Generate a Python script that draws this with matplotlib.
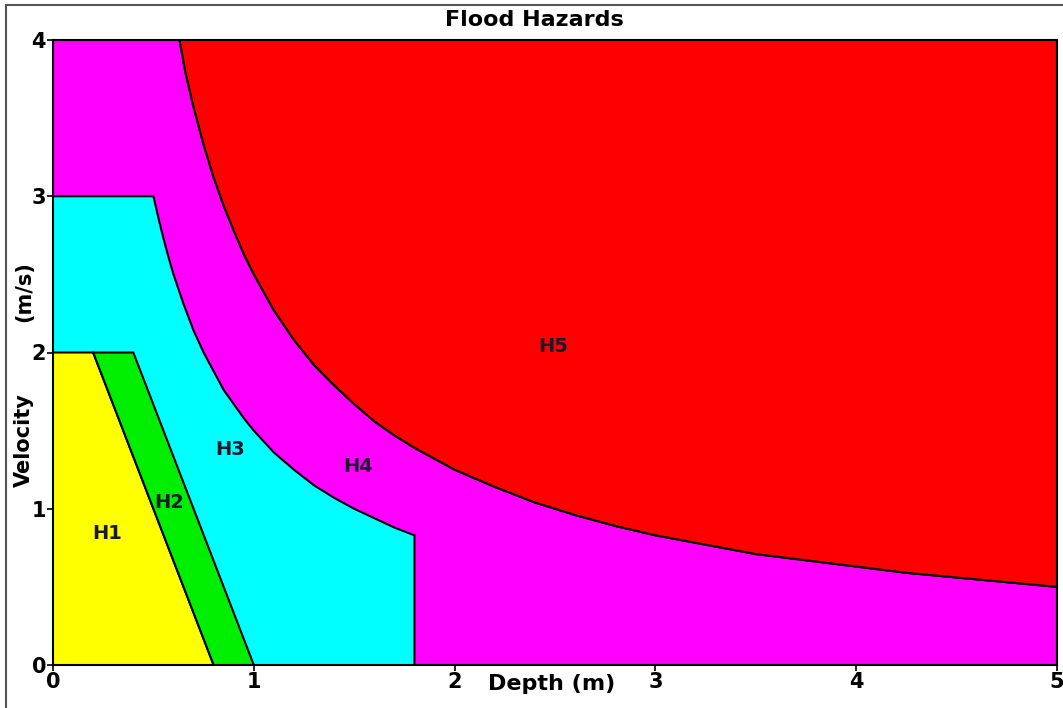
import matplotlib
matplotlib.use("Agg")
import matplotlib.pyplot as plt
import matplotlib.patches as mpatches

plt.rcParams['font.family'] = ['DejaVu Sans']
plt.rcParams['font.weight'] = 'bold'

# -------------------------------------------------------------
# Hazard zone boundaries (depth in m, velocity in m/s)
# -------------------------------------------------------------
h1_depth = [0.0, 0.0, 0.2, 0.8]
h1_vel = [0.0, 2.0, 2.0, 0.0]

h2_depth = [0.2, 0.4, 1.0, 0.8]
h2_vel = [2.0, 2.0, 0.0, 0.0]

# H3 / H4 boundary curve
h3_curve_depth = [0.5, 0.525, 0.55, 0.575, 0.6, 0.65, 0.7, 0.75, 0.8, 0.85,
                  0.9, 0.95, 1.0, 1.1, 1.2, 1.3, 1.4, 1.5, 1.6, 1.7, 1.8]
h3_curve_vel = [3.0, 2.86, 2.73, 2.61, 2.5, 2.31, 2.14, 2.0, 1.88, 1.76,
                1.67, 1.58, 1.5, 1.36, 1.25, 1.15, 1.07, 1.0, 0.94, 0.88, 0.83]

# H4 / H5 boundary curve
h5_curve_depth = [0.63, 0.66, 0.7, 0.75, 0.8, 0.85, 0.9, 0.95, 1.0, 1.1,
                  1.2, 1.3, 1.4, 1.5, 1.6, 1.7, 1.8, 1.9, 2.0, 2.2, 2.4,
                  2.6, 2.8, 3.0, 3.25, 3.5, 3.75, 4.0, 4.25, 4.5, 4.75, 5.0]
h5_curve_vel = [4.0, 3.79, 3.57, 3.33, 3.12, 2.94, 2.78, 2.63, 2.5, 2.27,
                2.08, 1.92, 1.79, 1.67, 1.56, 1.47, 1.39, 1.32, 1.25, 1.14, 1.04,
                0.96, 0.89, 0.83, 0.77, 0.71, 0.67, 0.63, 0.59, 0.56, 0.53, 0.5]

zone_names = ["H1", "H2", "H3", "H4", "H5"]
zone_colors = ["#ffff00", "#00ee00", "#00ffff", "#ff00ff", "#ff0000"]
label_depth = [0.27, 0.58, 0.88, 1.52, 2.49]
label_vel = [0.84, 1.04, 1.38, 1.27, 2.04]

x_max, y_max = 5, 4


# -------------------------------------------------------------
# Build polygons
# -------------------------------------------------------------
h3_poly = ([(0.0, 0.0), (0.0, 3.0)]
           + list(zip(h3_curve_depth, h3_curve_vel))
           + [(h3_curve_depth[-1], 0.0)])

h4_poly = ([(0.0, 0.0), (0.0, y_max)]
           + list(zip(h5_curve_depth, h5_curve_vel))
           + [(x_max, 0.0)])

h5_poly = (list(zip(h5_curve_depth, h5_curve_vel))
           + [(x_max, y_max)])

fig = plt.figure(figsize=(10.63, 7.08), dpi=100)
ax = fig.add_axes([53 / 1063, 1 - 665 / 708, (1057 - 53) / 1063, (665 - 40) / 708])

polys = [
    list(zip(h1_depth, h1_vel)),
    list(zip(h2_depth, h2_vel)),
    h3_poly,
    h4_poly,
    h5_poly,
]

# draw back to front: H4 base first, then inner zones on top
order = [3, 4, 2, 0, 1]
for z, i in enumerate(order):
    patch = mpatches.Polygon(polys[i], closed=True,
                             facecolor=zone_colors[i], edgecolor='black',
                             linewidth=1.5, zorder=1 + z)
    ax.add_patch(patch)

for name, x, y in zip(zone_names, label_depth, label_vel):
    ax.text(x, y, name, fontsize=14, fontweight='bold', color='#1a1a2e',
            ha='center', va='center', zorder=10)

ax.set_xlim(0, x_max)
ax.set_ylim(0, y_max)
ax.set_xticks(range(0, x_max + 1))
ax.set_yticks(range(0, y_max + 1))
ax.tick_params(direction='out', length=4, width=1.2, labelsize=15, pad=1)
for lbl in ax.get_xticklabels() + ax.get_yticklabels():
    lbl.set_fontweight('bold')
for sp in ax.spines.values():
    sp.set_linewidth(1.5)

# titles
fig.text(534 / 1063, 1 - 20 / 708, "Flood Hazards", fontsize=16,
         fontweight='bold', ha='center', va='center')
fig.text(552 / 1063, 1 - 684 / 708, "Depth (m)", fontsize=16,
         fontweight='bold', ha='center', va='center')
fig.text(24 / 1063, 1 - 440 / 708, "Velocity", fontsize=15,
         fontweight='bold', ha='center', va='center', rotation=90)
fig.text(24 / 1063, 1 - 292 / 708, "(m/s)", fontsize=15,
         fontweight='bold', ha='center', va='center', rotation=90)

# outer frame
frame = mpatches.Rectangle((6 / 1063, -0.05), 1.1, 1 - 5 / 708 + 0.05,
                           transform=fig.transFigure, fill=False,
                           edgecolor='#555555', linewidth=1.5)
fig.patches.append(frame)

fig.savefig("out.png", dpi=100)
